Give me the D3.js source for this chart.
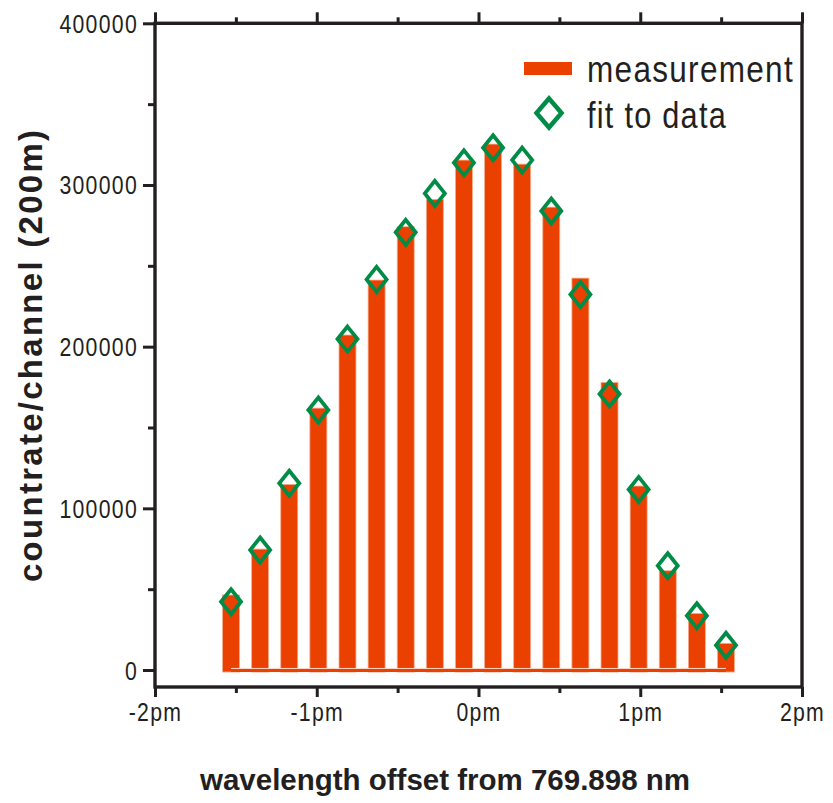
<!DOCTYPE html>
<html>
<head>
<meta charset="utf-8">
<script src="https://cdn.jsdelivr.net/npm/d3@7"></script>
<style>
  html, body { margin: 0; padding: 0; background: #ffffff; }
  svg { display: block; }
  .tick-label {
    font-family: "Liberation Sans", Arial, sans-serif;
    font-size: 25px; letter-spacing: 1.5px; fill: #231f20;
  }
  .legend-label {
    font-family: "Liberation Sans", Arial, sans-serif;
    font-size: 37px; letter-spacing: 1.5px; fill: #231f20;
  }
  .axis-title {
    font-family: "Liberation Sans", Arial, sans-serif;
    font-weight: bold; fill: #231f20;
  }
</style>
</head>
<body>
<svg id="chart" width="833" height="803"></svg>
<script>
// Wavelength offsets of the spectrometer channels (pm)
const offsetsPm = [-1.53, -1.35, -1.17, -0.99, -0.81, -0.63, -0.45, -0.27, -0.09,
                    0.09,  0.27,  0.45,  0.63,  0.81,  0.99,  1.17,  1.35,  1.53];

// Measured count rate per channel
const measurement = [46400, 74800, 114800, 162000, 207200, 241200, 274200, 291100, 315400,
                     325300, 312900, 286300, 242400, 177900, 113800, 61400, 35000, 16500];

// Fitted model values per channel
const fitValues = [42200, 74200, 115500, 160800, 204700, 241600, 270700, 294800, 313700,
                   323000, 315400, 283900, 232300, 170700, 111700, 64500, 33600, 15300];

const seriesNames = ["measurement", "fit to data"];

const xTickValues = [-2, -1, 0, 1, 2];
const xTickLabels = ["-2pm", "-1pm", "0pm", "1pm", "2pm"];
const xMinorTicks = [-1.5, -0.5, 0.5, 1.5];

const yTickValues = [0, 100000, 200000, 300000, 400000];
const yTickLabels = ["0", "100000", "200000", "300000", "400000"];
const yMinorTicks = [50000, 150000, 250000, 350000];

const xTitle = "wavelength offset from 769.898 nm";
const yTitle = "countrate/channel (200m)";

// ---- layout & style ----
const plot = { left: 155, right: 802, top: 23.3, bottom: 687 };
const ink = "#231f20";
const barColor = "#ea4000";
const barEdge = "#f6ad8d";
const fitColor = "#008c46";
const barWidthPm = 0.105;
const yFloor = -10500;          // the frame extends a little below zero
const narrow = 0.85;            // horizontal squeeze for the condensed tick/legend lettering

const svg = d3.select("#chart");

const x = d3.scaleLinear().domain([-2, 2]).range([plot.left, plot.right]);
const y = d3.scaleLinear().domain([yFloor, 400000]).range([plot.bottom, plot.top]);

// squeeze text horizontally to get a condensed face
function condense(sel, factor) {
  sel.each(function () {
    const w = this.getComputedTextLength();
    d3.select(this).attr("textLength", w * factor).attr("lengthAdjust", "spacingAndGlyphs");
  });
}

// ---- bars ----
const barW = x(barWidthPm) - x(0);
const base = y(0) + 2;

svg.append("g").selectAll("rect")
  .data(offsetsPm)
  .join("rect")
  .attr("x", (d) => x(d) - barW / 2)
  .attr("width", barW)
  .attr("y", (d, i) => y(measurement[i]))
  .attr("height", (d, i) => base - y(measurement[i]))
  .attr("fill", barColor)
  .attr("stroke", barEdge)
  .attr("stroke-width", 0.8);

// baseline strip joining the bars
const x0 = x(offsetsPm[0]);
const x1 = x(offsetsPm[offsetsPm.length - 1]);
svg.append("rect")
  .attr("x", x0).attr("width", x1 - x0)
  .attr("y", y(0) - 1.3).attr("height", base - y(0) + 1.3)
  .attr("fill", barColor);
svg.append("line")
  .attr("x1", x0).attr("x2", x1)
  .attr("y1", y(0) - 1.6).attr("y2", y(0) - 1.6)
  .attr("stroke", "#fbd9cb").attr("stroke-width", 1);

// ---- fit markers ----
function diamond(cx, cy, hw, hh) {
  const p = d3.path();
  p.moveTo(cx, cy - hh);
  p.lineTo(cx + hw, cy);
  p.lineTo(cx, cy + hh);
  p.lineTo(cx - hw, cy);
  p.closePath();
  return p.toString();
}

svg.append("g").selectAll("path")
  .data(offsetsPm)
  .join("path")
  .attr("d", (d, i) => diamond(x(d), y(fitValues[i]), 10, 12.5))
  .attr("fill", "none")
  .attr("stroke", fitColor)
  .attr("stroke-width", 3.8)
  .attr("stroke-linejoin", "miter");

// ---- axes ----
function styleAxis(g) {
  g.select(".domain").remove();
  g.selectAll(".tick line").attr("stroke", ink).attr("stroke-width", 3);
}

// bottom
const gBottom = svg.append("g").attr("transform", `translate(0,${plot.bottom})`)
  .call(d3.axisBottom(x).tickValues(xTickValues)
    .tickFormat((d, i) => xTickLabels[i]).tickSize(10).tickPadding(6));
styleAxis(gBottom);
gBottom.attr("font-size", null).attr("font-family", null);
gBottom.selectAll(".tick text").attr("class", "tick-label")
  .attr("y", 34).attr("dy", null)
  .call(condense, narrow);

svg.append("g").attr("transform", `translate(0,${plot.bottom})`)
  .call(d3.axisBottom(x).tickValues(xMinorTicks).tickFormat("").tickSize(6))
  .call(styleAxis);

// top (ticks only)
svg.append("g").attr("transform", `translate(0,${plot.top})`)
  .call(d3.axisTop(x).tickValues(xTickValues).tickFormat("").tickSize(11))
  .call(styleAxis);
svg.append("g").attr("transform", `translate(0,${plot.top})`)
  .call(d3.axisTop(x).tickValues(xMinorTicks).tickFormat("").tickSize(6))
  .call(styleAxis);

// left
const gLeft = svg.append("g").attr("transform", `translate(${plot.left},0)`)
  .call(d3.axisLeft(y).tickValues(yTickValues)
    .tickFormat((d, i) => yTickLabels[i]).tickSize(12).tickPadding(5));
styleAxis(gLeft);
gLeft.attr("font-size", null).attr("font-family", null);
gLeft.selectAll(".tick text").attr("class", "tick-label").attr("dy", "0.36em")
  .call(condense, narrow);

svg.append("g").attr("transform", `translate(${plot.left},0)`)
  .call(d3.axisLeft(y).tickValues(yMinorTicks).tickFormat("").tickSize(7))
  .call(styleAxis);

// frame
svg.append("rect")
  .attr("x", plot.left).attr("y", plot.top)
  .attr("width", plot.right - plot.left).attr("height", plot.bottom - plot.top)
  .attr("fill", "none").attr("stroke", ink).attr("stroke-width", 3.4);

// ---- axis titles ----
svg.append("text")
  .attr("class", "axis-title")
  .attr("x", 200).attr("y", 790)
  .attr("font-size", 30)
  .attr("textLength", 490).attr("lengthAdjust", "spacingAndGlyphs")
  .text(xTitle);

svg.append("text")
  .attr("class", "axis-title")
  .attr("transform", "translate(42,582) rotate(-90)")
  .attr("font-size", 33)
  .attr("textLength", 452).attr("lengthAdjust", "spacing")
  .text(yTitle);

// ---- legend ----
const legend = svg.append("g");
legend.append("rect")
  .attr("x", 524).attr("y", 62).attr("width", 48).attr("height", 13)
  .attr("fill", barColor);
legend.append("text").attr("class", "legend-label")
  .attr("x", 587).attr("y", 82)
  .attr("textLength", 207).attr("lengthAdjust", "spacingAndGlyphs")
  .text(seriesNames[0]);

legend.append("path")
  .attr("d", diamond(549, 113, 12.5, 14.5))
  .attr("fill", "none").attr("stroke", fitColor).attr("stroke-width", 4.5);
legend.append("text").attr("class", "legend-label")
  .attr("x", 587).attr("y", 128)
  .attr("textLength", 140).attr("lengthAdjust", "spacingAndGlyphs")
  .text(seriesNames[1]);
</script>
</body>
</html>
